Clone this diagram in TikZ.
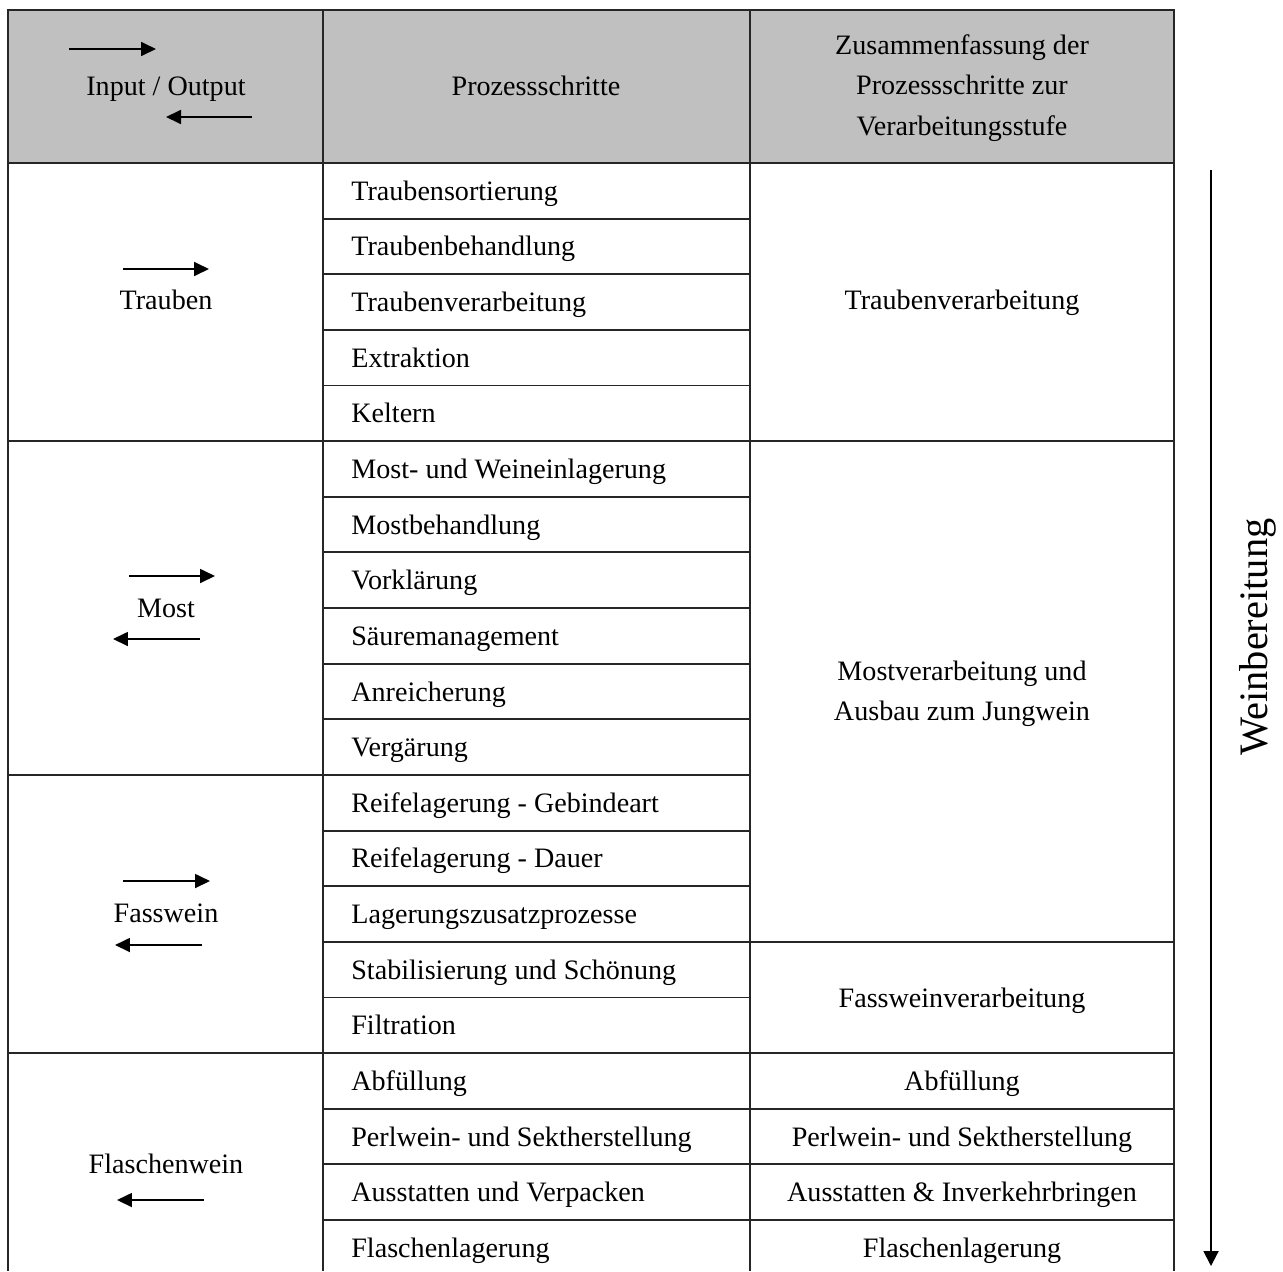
\documentclass[tikz,border=0pt]{standalone}
\usepackage{fontspec}
\setmainfont{Liberation Serif}
\usetikzlibrary{arrows.meta,positioning,calc}
\definecolor{headgray}{RGB}{192,192,192}

\begin{document}
\begin{tikzpicture}[
    x=0.02cm, y=-0.02cm,
    grid/.style = {line width=1.1pt, black!85},
    proc/.style = {anchor=base west, yshift=-0.19cm, inner sep=0pt, font=\fontsize{16}{19}\selectfont},
    cell/.style = {anchor=base, yshift=-0.19cm, inner sep=0pt, font=\fontsize{16}{19}\selectfont},
    multi/.style = {align=center, inner sep=0pt, font=\fontsize{16}{23}\selectfont},
    io/.style = {-{Triangle[length=0.3cm, width=0.28cm]}, line width=1pt},
    flow/.style = {-{Triangle[length=0.3cm, width=0.3cm]}, line width=1.1pt}
]
    \useasboundingbox (0,0) rectangle (1283,1271);

    % header and grid
    \fill[headgray] (8,10) rectangle (1174,163);
    \draw[grid] (8,1271) -- (8,10) -- (1174,10) -- (1174,1271);
    \draw[grid] (323,10) -- (323,1271);
    \draw[grid] (750,10) -- (750,1271);
    \draw[grid] (8,163) -- (1174,163);
    \draw[grid] (8,441.2) -- (1174,441.2);
    \draw[grid] (8,774.9) -- (750,774.9);
    \draw[grid] (323,941.8) -- (1174,941.8);
    \draw[grid] (8,1053.1) -- (1174,1053.1);
    % process rows
    \draw[grid] (323,218.6) -- (750,218.6);
    \draw[grid] (323,274.3) -- (750,274.3);
    \draw[grid] (323,329.9) -- (750,329.9);
    \draw[grid] (323,385.5) -- (750,385.5);
    \draw[grid] (323,496.8) -- (750,496.8);
    \draw[grid] (323,552.4) -- (750,552.4);
    \draw[grid] (323,608.0) -- (750,608.0);
    \draw[grid] (323,663.7) -- (750,663.7);
    \draw[grid] (323,719.3) -- (750,719.3);
    \draw[grid] (323,830.6) -- (750,830.6);
    \draw[grid] (323,886.2) -- (750,886.2);
    \draw[grid] (323,997.5) -- (750,997.5);
    \draw[grid] (323,1108.7) -- (1174,1108.7);
    \draw[grid] (323,1164.3) -- (1174,1164.3);
    \draw[grid] (323,1220.0) -- (1174,1220.0);

    % header texts
    \node[cell] (iohead) at (166,86) {Input / Output};
    \node[cell] (prochead) at (536,86) {Prozessschritte};
    \node[multi] (stufehead) at (962,88) {Zusammenfassung der\\Prozessschritte zur\\Verarbeitungsstufe};

    % input / output column
    \node[cell] (trauben) at (166,300) {Trauben};
    \node[cell] (most) at (166,608) {Most};
    \node[cell] (fasswein) at (166,913) {Fasswein};
    \node[cell] (flaschenwein) at (166,1164) {Flaschenwein};

    % process steps
    \node[proc] (p1) at (351,190.8) {Traubensortierung};
    \node[proc] (p2) at (351,246.4) {Traubenbehandlung};
    \node[proc] (p3) at (351,302.1) {Traubenverarbeitung};
    \node[proc] (p4) at (351,357.7) {Extraktion};
    \node[proc] (p5) at (351,413.3) {Keltern};
    \node[proc] (p6) at (351,469.0) {Most- und Weineinlagerung};
    \node[proc] (p7) at (351,524.6) {Mostbehandlung};
    \node[proc] (p8) at (351,580.2) {Vorklärung};
    \node[proc] (p9) at (351,635.8) {Säuremanagement};
    \node[proc] (p10) at (351,691.5) {Anreicherung};
    \node[proc] (p11) at (351,747.1) {Vergärung};
    \node[proc] (p12) at (351,802.7) {Reifelagerung - Gebindeart};
    \node[proc] (p13) at (351,858.4) {Reifelagerung - Dauer};
    \node[proc] (p14) at (351,914.0) {Lagerungszusatzprozesse};
    \node[proc] (p15) at (351,969.6) {Stabilisierung und Schönung};
    \node[proc] (p16) at (351,1025.3) {Filtration};
    \node[proc] (p17) at (351,1080.9) {Abfüllung};
    \node[proc] (p18) at (351,1136.5) {Perlwein- und Sektherstellung};
    \node[proc] (p19) at (351,1192.1) {Ausstatten und Verpacken};
    \node[proc] (p20) at (351,1247.8) {Flaschenlagerung};

    % processing stages
    \node[cell] (s1) at (962,300) {Traubenverarbeitung};
    \node[multi] (s2) at (962,694) {Mostverarbeitung und\\Ausbau zum Jungwein};
    \node[cell] (s3) at (962,997.5) {Fassweinverarbeitung};
    \node[cell] (s4) at (962,1080.9) {Abfüllung};
    \node[cell] (s5) at (962,1136.5) {Perlwein- und Sektherstellung};
    \node[cell] (s6) at (962,1192.1) {Ausstatten \& Inverkehrbringen};
    \node[cell] (s7) at (962,1247.8) {Flaschenlagerung};

    % input / output arrows
    \coordinate (hin1) at (69,49);   \coordinate (hin2) at (156,49);
    \coordinate (hout1) at (252,117); \coordinate (hout2) at (166,117);
    \coordinate (tin1) at (123,269);  \coordinate (tin2) at (209,269);
    \coordinate (min1) at (129,576);  \coordinate (min2) at (215,576);
    \coordinate (mout1) at (200,639); \coordinate (mout2) at (113,639);
    \coordinate (fin1) at (123,881);  \coordinate (fin2) at (210,881);
    \coordinate (fout1) at (202,945); \coordinate (fout2) at (115,945);
    \coordinate (bout1) at (204,1200); \coordinate (bout2) at (117,1200);
    \draw[io] (hin1) -- (hin2);
    \draw[io] (hout1) -- (hout2);
    \draw[io] (tin1) -- (tin2);
    \draw[io] (min1) -- (min2);
    \draw[io] (mout1) -- (mout2);
    \draw[io] (fin1) -- (fin2);
    \draw[io] (fout1) -- (fout2);
    \draw[io] (bout1) -- (bout2);

    % overall direction
    \coordinate (flowtop) at (1211,170);
    \coordinate (flowend) at (1211,1266);
    \draw[flow] (flowtop) -- (flowend);
    \node[rotate=90, inner sep=0pt, font=\fontsize{23}{27}\selectfont] (weinbereitung) at (1258,637) {Weinbereitung};
\end{tikzpicture}
\end{document}
